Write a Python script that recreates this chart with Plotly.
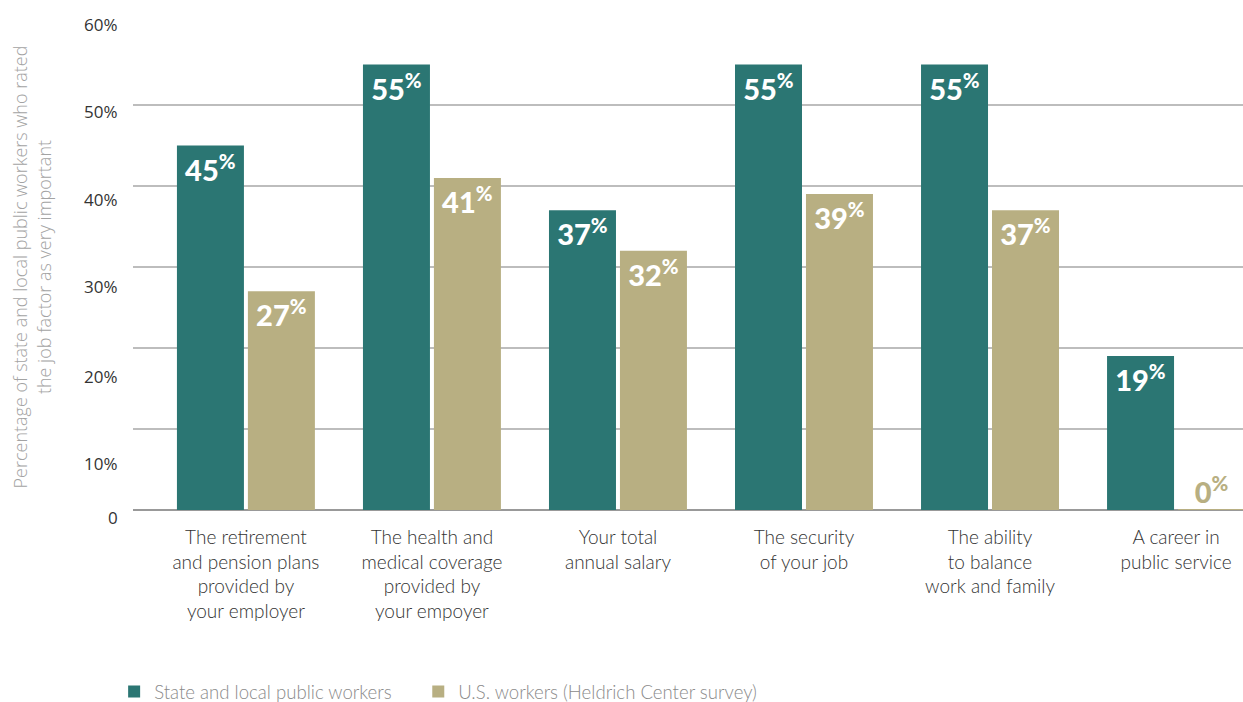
import plotly.graph_objects as go

# Job factors rated "very important"
categories = [
    "The retirement<br>and pension plans<br>provided by<br>your employer",
    "The health and<br>medical coverage<br>provided by<br>your empoyer",
    "Your total<br>annual salary",
    "The security<br>of your job",
    "The ability<br>to balance<br>work and family",
    "A career in<br>public service",
]
public_workers = [45, 55, 37, 55, 55, 19]
us_workers = [27, 41, 32, 39, 37, 0]

y_tick_values = [60, 50, 40, 30, 20, 10, 0]
y_tick_labels = ["60%", "50%", "40%", "30%", "20%", "10%", "0"]
# vertical nudge (px) of each y label relative to its gridline
y_label_shift = [0, -6, -13, -19, -28, -34, -7]

TEAL = "#2b7673"
TAN = "#b8af82"

BARGAP = 0.237
BARGROUPGAP = 0.056
x_idx = list(range(len(categories)))
# centre offset of the second bar within each group, and a single bar's width
slot = (1 - BARGAP) / 2
tan_offset = slot / 2
bar_half = slot * (1 - BARGROUPGAP) / 2

label_font = dict(family="Lato", size=29, color="white", weight=900)

fig = go.Figure()
fig.add_trace(go.Bar(
    name="State and local public workers",
    x=x_idx, y=public_workers,
    marker=dict(color=TEAL, line=dict(width=0)),
    texttemplate="%{y}<sup>%</sup>",
    textposition="inside", insidetextanchor="end",
    insidetextfont=label_font,
    hoverinfo="skip", legend="legend",
))
fig.add_trace(go.Bar(
    name="U.S. workers (Heldrich Center survey)",
    x=x_idx, y=us_workers,
    marker=dict(color=TAN, line=dict(width=0)),
    texttemplate=["%{y}<sup>%</sup>" if v > 0 else "" for v in us_workers],
    textposition="inside", insidetextanchor="end",
    insidetextfont=label_font,
    hoverinfo="skip", legend="legend2",
))

# zero-valued bars: a thin baseline stroke plus the value label above it
for i, v in enumerate(us_workers):
    if v == 0:
        cx = x_idx[i] + tan_offset
        fig.add_trace(go.Scatter(
            x=[cx - bar_half, cx + bar_half], y=[v, v],
            mode="lines", line=dict(color=TAN, width=2),
            showlegend=False, hoverinfo="skip", cliponaxis=False,
        ))
        fig.add_trace(go.Scatter(
            x=[cx], y=[v], mode="text",
            text=[f"{v}<sup>%</sup>"], textposition="top center",
            textfont=dict(family="Lato", size=29, color=TAN, weight=900),
            showlegend=False, hoverinfo="skip", cliponaxis=False,
        ))

annotations = []
for v, lab, s in zip(y_tick_values, y_tick_labels, y_label_shift):
    annotations.append(dict(
        x=-0.0117, xref="paper", xanchor="right",
        y=v, yref="y", yanchor="middle", yshift=s,
        text=lab, showarrow=False,
        font=dict(family="Open Sans", size=17, color="#333333"),
    ))
annotations.append(dict(
    x=-0.0915, xref="paper", xanchor="center",
    y=0.5, yref="paper", yanchor="middle",
    text="Percentage of state and local public workers who rated<br>the job factor as very important",
    textangle=-90, showarrow=False,
    font=dict(family="Open Sans", size=18, color="#a3a3a3", weight=300),
))

legend_style = dict(
    orientation="h", xanchor="left", y=-0.3745, yanchor="middle",
    font=dict(family="Lato", size=18.6, color="#8a8a8a", weight=300),
    bgcolor="rgba(0,0,0,0)",
)

fig.update_layout(
    width=1243, height=702, autosize=False,
    margin=dict(l=133, r=0, t=24, b=192, autoexpand=False),
    paper_bgcolor="white", plot_bgcolor="white",
    barmode="group", bargap=BARGAP, bargroupgap=BARGROUPGAP,
    showlegend=True,
    legend=dict(x=-0.017, **legend_style),
    legend2=dict(x=0.257, **legend_style),
    annotations=annotations,
    xaxis=dict(
        tickmode="array", tickvals=x_idx, ticktext=categories,
        range=[-0.607, 5.36], showgrid=False, zeroline=False, showline=False,
        ticks="", ticklabelstandoff=14, automargin=False,
        tickfont=dict(family="Lato", size=19, color="#333333", weight=300),
    ),
    yaxis=dict(
        range=[0, 60], tickvals=y_tick_values, showticklabels=False,
        showgrid=True, gridcolor="#bdbdbd", gridwidth=1.5,
        zeroline=True, zerolinecolor="#999999", zerolinewidth=1.5,
        showline=False, ticks="", automargin=False,
    ),
)

fig.write_html("out.html")
